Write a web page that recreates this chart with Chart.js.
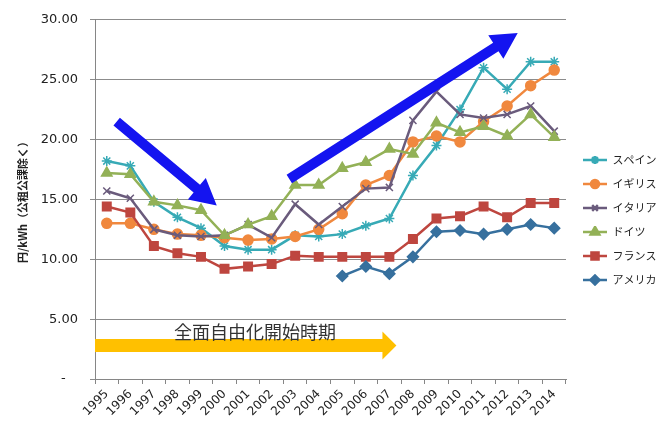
<!DOCTYPE html>
<html>
<head>
<meta charset="utf-8">
<script src="https://cdn.jsdelivr.net/npm/chart.js@4/dist/chart.umd.min.js"></script>
<style>
  html, body { margin: 0; padding: 0; background: #fff; }
  #wrap { width: 661px; height: 426px; }
</style>
</head>
<body>
<div id="wrap"><canvas id="priceChart" width="661" height="426"></canvas></div>
<script>
const years = ['1995', '1996', '1997', '1998', '1999', '2000', '2001', '2002', '2003', '2004',
  '2005', '2006', '2007', '2008', '2009', '2010', '2011', '2012', '2013', '2014'];

const spain   = [18.2, 17.8, 14.8, 13.5, 12.6, 11.1, 10.8, 10.8, 12.0, 11.9,
                 12.1, 12.8, 13.4, 17.0, 19.5, 22.5, 26.0, 24.2, 26.5, 26.5];
const uk      = [13.0, 13.0, 12.5, 12.1, 12.0, 11.8, 11.6, 11.7, 11.9, 12.5,
                 13.8, 16.2, 17.0, 19.8, 20.3, 19.8, 21.5, 22.8, 24.5, 25.8];
const italy   = [15.7, 15.1, 12.5, 12.0, 11.9, 12.0, 12.9, 11.8, 14.6, 12.9,
                 14.4, 15.9, 16.0, 21.6, 24.0, 22.1, 21.8, 22.1, 22.8, 20.7];
const germany = [17.2, 17.1, 14.8, 14.5, 14.1, 12.0, 12.9, 13.6, 16.2, 16.2,
                 17.6, 18.1, 19.2, 18.8, 21.4, 20.6, 21.1, 20.3, 22.1, 20.2];
const france  = [14.4, 13.9, 11.1, 10.5, 10.2, 9.2, 9.4, 9.6, 10.3, 10.2,
                 10.2, 10.2, 10.2, 11.7, 13.4, 13.6, 14.4, 13.5, 14.7, 14.7];
const usa     = [null, null, null, null, null, null, null, null, null, null,
                 8.6, 9.4, 8.8, 10.2, 12.3, 12.4, 12.1, 12.5, 12.9, 12.6];

const seriesNames = ['スペイン', 'イギリス', 'イタリア', 'ドイツ', 'フランス', 'アメリカ'];
const seriesData = [spain, uk, italy, germany, france, usa];
const yTicks = [0, 5, 10, 15, 20, 25, 30];

const colors = ['#37AAB6', '#F0883E', '#6A5B7C', '#93B157', '#BE463F', '#37709E'];
const markers = ['star', 'circle', 'crossRot', 'triangle', 'rect', 'rectRot'];
const markerSize = [5, 5, 5, 6, 6, 5.5];

// little line+marker pictures for the legend
function legendIcon(i) {
  const c = document.createElement('canvas');
  c.width = 28;
  c.height = 12;
  const g = c.getContext('2d');
  g.strokeStyle = colors[i];
  g.lineWidth = 2.5;
  g.beginPath();
  g.moveTo(4, 6);
  g.lineTo(28, 6);
  g.stroke();
  g.fillStyle = colors[i];
  Chart.helpers.drawPoint(g, { pointStyle: markers[i], radius: markerSize[i] - 1, rotation: 0, borderWidth: 1.2 }, 16, 6);
  return c;
}

// arrows and caption placed in data units (category index, value)
const notes = {
  downArrow: { from: [0.42, 21.5], to: [4.67, 14.5] },
  upArrow: { from: [7.75, 16.7], to: [17.45, 28.9] },
  periodArrow: { from: [-0.5, 2.8], to: [12.3, 2.8] },
  caption: { text: '全面自由化開始時期', at: [6.29, 3.95] }
};

function arrow(ctx, x1, y1, x2, y2, shaft, headW, headL, color) {
  const ang = Math.atan2(y2 - y1, x2 - x1);
  const len = Math.hypot(x2 - x1, y2 - y1);
  ctx.save();
  ctx.translate(x1, y1);
  ctx.rotate(ang);
  ctx.fillStyle = color;
  ctx.beginPath();
  ctx.moveTo(0, -shaft / 2);
  ctx.lineTo(len - headL, -shaft / 2);
  ctx.lineTo(len - headL, -headW / 2);
  ctx.lineTo(len, 0);
  ctx.lineTo(len - headL, headW / 2);
  ctx.lineTo(len - headL, shaft / 2);
  ctx.lineTo(0, shaft / 2);
  ctx.closePath();
  ctx.fill();
  ctx.restore();
}

const notesPlugin = {
  id: 'notes',
  afterDatasetsDraw(chart) {
    const ctx = chart.ctx;
    const x = chart.scales.x, y = chart.scales.y;
    const px = p => [x.getPixelForValue(p[0]), y.getPixelForValue(p[1])];
    const a = px(notes.downArrow.from), b = px(notes.downArrow.to);
    arrow(ctx, a[0], a[1], b[0], b[1], 10, 28, 26, '#1414F0');
    const c = px(notes.upArrow.from), d = px(notes.upArrow.to);
    arrow(ctx, c[0], c[1], d[0], d[1], 10, 28, 26, '#1414F0');
    const e = px(notes.periodArrow.from), f = px(notes.periodArrow.to);
    arrow(ctx, e[0], e[1], f[0], f[1], 13, 28, 14, '#FFC000');
    const t = px(notes.caption.at);
    ctx.save();
    ctx.font = '18px "Noto Sans CJK JP"';
    ctx.fillStyle = '#333';
    ctx.textAlign = 'center';
    ctx.textBaseline = 'middle';
    ctx.fillText(notes.caption.text, t[0], t[1]);
    ctx.restore();
  }
};

const icons = seriesNames.map((n, i) => legendIcon(i));

new Chart(document.getElementById('priceChart'), {
  type: 'line',
  data: {
    labels: years,
    datasets: seriesNames.map((name, i) => ({
      label: name,
      data: seriesData[i],
      borderColor: colors[i],
      backgroundColor: colors[i],
      borderWidth: 2.5,
      pointStyle: markers[i],
      pointRadius: markerSize[i],
      pointBorderWidth: 1.5,
      pointBorderColor: colors[i],
      pointBackgroundColor: colors[i],
      tension: 0,
      spanGaps: false,
      order: 6 - i
    }))
  },
  options: {
    responsive: false,
    animation: false,
    layout: { padding: { top: 14, right: 0, left: 0, bottom: 0 } },
    plugins: {
      tooltip: { enabled: false },
      legend: {
        position: 'right',
        maxWidth: 95,
        labels: {
          usePointStyle: true,
          pointStyleWidth: 28,
          padding: 13,
          color: '#222',
          font: { family: '"Noto Sans CJK JP"', size: 11 },
          generateLabels: chart => seriesNames.map((name, i) => ({
            text: name,
            fillStyle: colors[i],
            strokeStyle: colors[i],
            lineWidth: 0,
            pointStyle: icons[i],
            datasetIndex: i,
            hidden: false,
            fontColor: '#222'
          }))
        }
      }
    },
    scales: {
      x: {
        offset: true,
        afterFit: s => { s.height = 47; },
        grid: { offset: true, drawOnChartArea: false, tickLength: 5, color: '#868686' },
        border: { color: '#868686', width: 1 },
        ticks: {
          minRotation: 45,
          maxRotation: 45,
          autoSkip: false,
          padding: 3,
          color: '#222',
          font: { family: '"DejaVu Sans"', size: 12 }
        }
      },
      y: {
        min: 0,
        max: 30,
        afterFit: s => { s.width = 95; },
        afterBuildTicks: s => { s.ticks = yTicks.map(v => ({ value: v })); },
        grid: { color: '#8c8c8c', tickLength: 5 },
        border: { color: '#868686', width: 1 },
        ticks: {
          padding: 12,
          color: '#222',
          font: { family: '"DejaVu Sans"', size: 13 },
          callback: v => v === 0 ? '-   ' : v.toFixed(2)
        },
        title: {
          display: true,
          text: '円/kWh（公租公課除く）',
          color: '#222',
          padding: { top: 16, bottom: 0 },
          font: { family: '"Noto Sans CJK JP"', size: 11, weight: 'bold' }
        }
      }
    }
  },
  plugins: [notesPlugin]
});
</script>
</body>
</html>
